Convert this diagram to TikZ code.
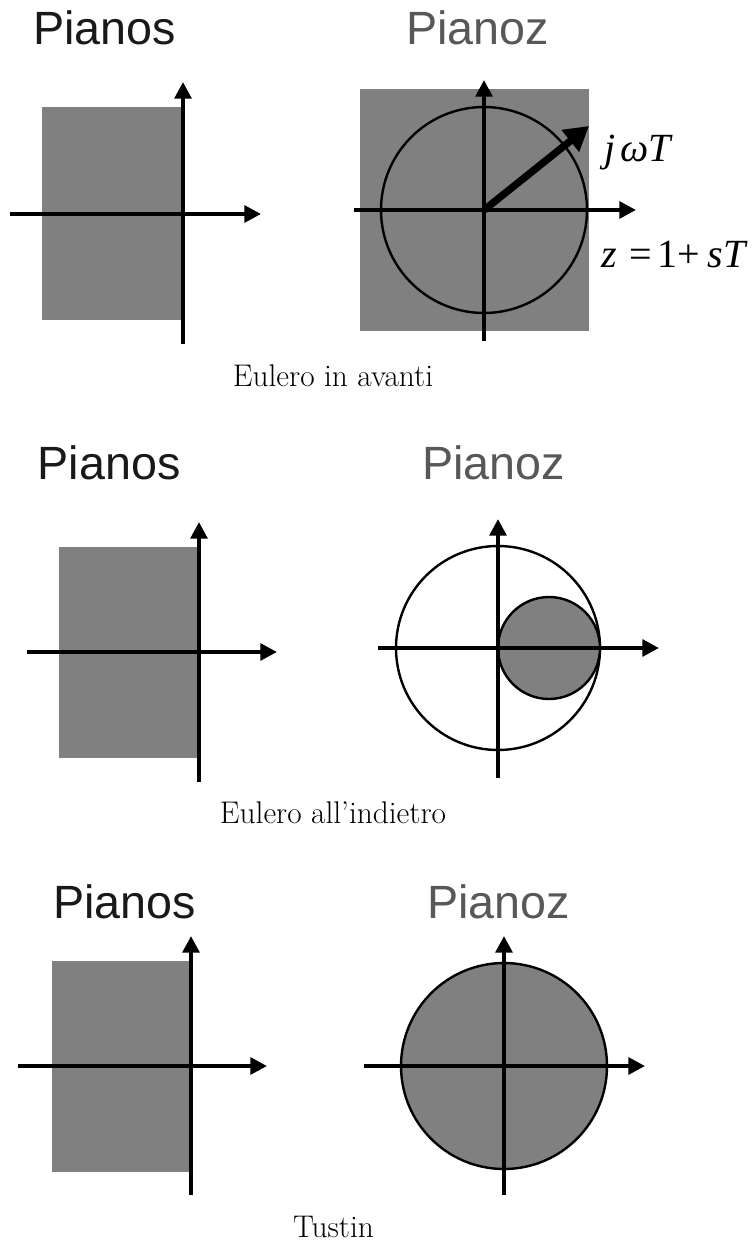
\documentclass[tikz,border=0pt]{standalone}
\usepackage{fontspec}
\newfontfamily\sansf{Liberation Sans}
\newfontfamily\timesf{Liberation Serif}
\usetikzlibrary{arrows.meta}
\definecolor{shade}{RGB}{128,128,128}
\definecolor{titlegray}{RGB}{88,88,88}
\definecolor{titleblack}{RGB}{25,25,25}
\tikzset{
  axis/.style={line width=3pt, -{Triangle[width=12.5pt,length=12.5pt]}},
  region/.style={fill=shade},
  rim/.style={draw=black, line width=1.8pt},
  vec/.style={line width=5.5pt, -{Triangle[width=20pt,length=18pt]}},
  title/.style={font=\sansf\fontsize{35}{40}\selectfont, anchor=base west, inner sep=0pt},
  caption/.style={font=\fontsize{23.5}{28}\selectfont, anchor=base, inner sep=0pt},
  mathlbl/.style={font=\timesf\fontsize{30}{34}\selectfont, anchor=base west, inner sep=0pt},
}
\begin{document}
\begin{tikzpicture}[x=0.75pt,y=-0.75pt]
\useasboundingbox (0,0) rectangle (753,1244);

% ---------------- Panel 1: Eulero in avanti ----------------
\node[title, text=titleblack] (ps1) at (33,45) {Pianos};
\node[title, text=titlegray] (pz1) at (406,45) {Pianoz};
\fill[region] (42,107) rectangle (182,320);
\coordinate (s1w) at (10,214);  \coordinate (s1e) at (261,214);
\coordinate (s1s) at (183,344); \coordinate (s1n) at (183,82);
\draw[axis] (s1w) -- (s1e);
\draw[axis] (s1s) -- (s1n);

\fill[region] (360,89) rectangle (589,331);
\coordinate (z1o) at (484,210);
\draw[rim] (z1o) circle[radius=103];
\coordinate (z1w) at (354,210);  \coordinate (z1e) at (636,210);
\coordinate (z1s) at (484,341);  \coordinate (z1n) at (484,80);
\draw[axis] (z1w) -- (z1e);
\draw[axis] (z1s) -- (z1n);
\coordinate (z1t) at (589,126);
\draw[vec] (z1o) -- (z1t);
\node[mathlbl] (jw) at (604,162) {\itshape j\hspace{0.12em}ωT};
\node[mathlbl] (zeq) at (601,268) {\itshape z\hspace{0.32em}\upshape=\hspace{0.14em}1+\hspace{0.18em}\itshape sT};
\node[caption] (c1) at (333,386.5) {Eulero in avanti};

% ---------------- Panel 2: Eulero all'indietro ----------------
\node[title, text=titleblack] (ps2) at (37.5,479) {Pianos};
\node[title, text=titlegray] (pz2) at (422,479) {Pianoz};
\fill[region] (59,547) rectangle (198,758);
\coordinate (s2w) at (27,652);  \coordinate (s2e) at (277,652);
\coordinate (s2s) at (199,782); \coordinate (s2n) at (199,522);
\draw[axis] (s2w) -- (s2e);
\draw[axis] (s2s) -- (s2n);

\coordinate (z2o) at (498,648);
\coordinate (z2c) at (549,648);
\draw[rim] (z2o) circle[radius=102];
\draw[rim, fill=shade] (z2c) circle[radius=51];
\coordinate (z2w) at (378,648);  \coordinate (z2e) at (659,648);
\coordinate (z2s) at (498,778);  \coordinate (z2n) at (498,519);
\draw[axis] (z2w) -- (z2e);
\draw[axis] (z2s) -- (z2n);
\node[caption] (c2) at (333,823) {Eulero all’indietro};

% ---------------- Panel 3: Tustin ----------------
\node[title, text=titleblack] (ps3) at (53,918) {Pianos};
\node[title, text=titlegray] (pz3) at (427,918) {Pianoz};
\fill[region] (52,961) rectangle (190,1172);
\coordinate (s3w) at (18,1066);  \coordinate (s3e) at (267,1066);
\coordinate (s3s) at (191,1195); \coordinate (s3n) at (191,936);
\draw[axis] (s3w) -- (s3e);
\draw[axis] (s3s) -- (s3n);

\coordinate (z3o) at (504,1066);
\draw[rim, fill=shade] (z3o) circle[radius=103];
\coordinate (z3w) at (364,1066);  \coordinate (z3e) at (645,1066);
\coordinate (z3s) at (504,1195);  \coordinate (z3n) at (504,936);
\draw[axis] (z3w) -- (z3e);
\draw[axis] (z3s) -- (z3n);
\node[caption] (c3) at (333.5,1237) {Tustin};
\end{tikzpicture}
\end{document}
